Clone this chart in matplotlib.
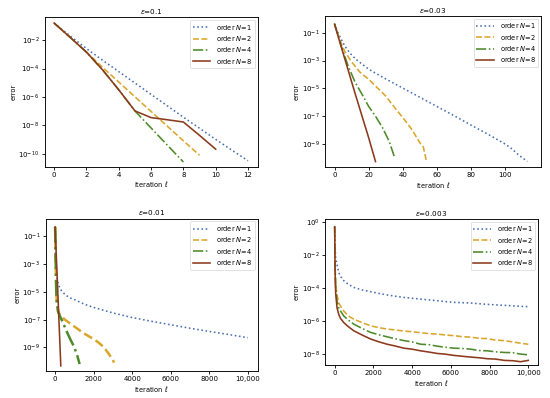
import numpy as np
import matplotlib
matplotlib.use("Agg")
import matplotlib.pyplot as plt
from matplotlib.ticker import NullLocator

plt.rcParams['font.family'] = ['DejaVu Sans']
plt.rcParams['font.size'] = 9
plt.rcParams['mathtext.fontset'] = 'dejavusans'
plt.rcParams['axes.linewidth'] = 1.3
plt.rcParams['xtick.major.width'] = 1.2
plt.rcParams['ytick.major.width'] = 1.2
plt.rcParams['xtick.major.size'] = 4.5
plt.rcParams['ytick.major.size'] = 4.5

# ---------------- data (log10 of error) ----------------
# Panel A: eps = 0.1
a_x1 = [0, 1, 2, 3, 4, 5, 6, 7, 8, 9, 10, 11, 12]
a_y1 = [-0.81, -1.72, -2.6, -3.42, -4.22, -5.02, -5.82, -6.62, -7.42, -8.2, -8.98, -9.74, -10.48]
a_x2 = [0, 1, 2, 3, 4, 5, 6, 7, 8, 9]
a_y2 = [-0.81, -1.82, -2.85, -3.92, -4.95, -5.99, -7.02, -8.05, -9.08, -10.1]
a_x4 = [0, 1, 2, 3, 4, 5, 6, 7, 8]
a_y4 = [-0.81, -1.82, -2.85, -4.1, -5.5, -6.98, -8.18, -9.38, -10.57]
a_x8 = [0, 1, 2, 3, 4, 5, 6, 7, 8, 9, 10]
a_y8 = [-0.81, -1.82, -2.85, -4.1, -5.5, -6.98, -7.45, -7.6, -7.76, -8.7, -9.67]

# Panel B: eps = 0.03
b_x1 = [0, 2, 4, 6, 8, 10, 12, 15, 20, 25, 30, 40, 50, 60, 70, 80, 90, 100, 104, 108, 113]
b_y1 = [-0.38, -1.0, -1.5, -1.95, -2.3, -2.6, -2.85, -3.15, -3.62, -3.98, -4.32, -4.98, -5.64, -6.3,
        -6.96, -7.64, -8.3, -9.0, -9.35, -9.8, -10.25]
b_x2 = [0, 3, 6, 10, 15, 20, 25, 30, 35, 40, 45, 50, 52, 54]
b_y2 = [-0.38, -1.5, -2.35, -3.1, -3.85, -4.35, -4.95, -5.55, -6.35, -7.1, -7.9, -8.9, -9.2, -10.3]
b_x4 = [0, 4, 8, 12, 16, 20, 24, 28, 32, 35]
b_y4 = [-0.38, -2.0, -3.4, -4.55, -5.4, -6.3, -7.0, -7.8, -8.8, -9.9]
b_x8 = [0, 4, 8, 12, 16, 20, 24]
b_y8 = [-0.38, -2.05, -3.7, -5.35, -6.95, -8.55, -10.26]

# Panel C: eps = 0.01
c_x1 = [0, 15, 35, 60, 90, 130, 180, 250, 350, 450, 600, 800, 1000, 1500, 2000, 3000, 4000,
        5000, 6000, 7000, 8000, 9000, 10000]
c_y1 = [-0.32, -1.5, -2.8, -3.45, -3.9, -4.25, -4.5, -4.75, -4.95, -5.1, -5.28, -5.45, -5.55,
        -5.88, -6.12, -6.52, -6.85, -7.12, -7.37, -7.62, -7.85, -8.07, -8.3]
c_x2 = [0, 30, 60, 90, 120, 150, 200, 300, 500, 750, 1000, 1250, 1500, 1750, 2000, 2250, 2500,
        2750, 3000, 3050]
c_y2 = [-0.32, -3.0, -5.0, -5.9, -6.0, -6.4, -6.55, -6.7, -7.0, -7.25, -7.5, -7.75, -8.0, -8.2,
        -8.4, -8.65, -8.95, -9.4, -9.9, -10.1]
c_x4 = [0, 30, 60, 90, 120, 150, 200, 400, 600, 800, 1000, 1150, 1270]
c_y4 = [-0.32, -3.0, -5.0, -5.9, -6.0, -6.4, -6.6, -7.2, -7.85, -8.45, -9.0, -9.6, -10.2]
c_x8 = [0, 150, 294]
c_y8 = [-0.32, -5.4, -10.33]

# Panel D: eps = 0.003
d_x = [0, 20, 50, 120, 207, 300, 466, 700, 985, 1400, 1850, 2300, 2710, 3100, 3575, 4000, 4440,
       4900, 5300, 5700, 6170, 6600, 7030, 7450, 7890, 8300, 8760, 9200, 9600, 10000]
d_y1 = [-0.29, -1.4, -2.2, -2.6, -3.05, -3.3, -3.56, -3.78, -3.97, -4.12, -4.23, -4.34, -4.43,
        -4.5, -4.58, -4.63, -4.68, -4.73, -4.78, -4.83, -4.88, -4.9, -4.92, -4.96, -5.0, -5.03,
        -5.06, -5.09, -5.12, -5.14]
d_y2 = [-0.29, -2.5, -3.8, -4.4, -4.9, -5.1, -5.4, -5.7, -5.9, -6.1, -6.3, -6.42, -6.5, -6.55,
        -6.62, -6.66, -6.72, -6.78, -6.8, -6.86, -6.9, -6.96, -6.99, -7.06, -7.08, -7.17, -7.2,
        -7.28, -7.36, -7.42]
d_y4 = [-0.29, -2.7, -4.0, -4.8, -5.2, -5.4, -5.7, -5.95, -6.2, -6.45, -6.7, -6.85, -6.97,
        -7.08, -7.2, -7.28, -7.42, -7.45, -7.54, -7.6, -7.66, -7.68, -7.72, -7.8, -7.82, -7.88,
        -7.92, -7.93, -8.02, -8.06]
d_y8 = [-0.29, -2.9, -4.3, -5.2, -5.6, -5.85, -6.1, -6.35, -6.6, -6.85, -7.1, -7.28, -7.42,
        -7.52, -7.66, -7.72, -7.82, -7.9, -7.98, -8.02, -8.1, -8.15, -8.2, -8.24, -8.3, -8.32,
        -8.4, -8.42, -8.48, -8.4]

titles = [r'$\varepsilon$=0.1', r'$\varepsilon$=0.03', r'$\varepsilon$=0.01', r'$\varepsilon$=0.003']
orders = [1, 2, 4, 8]

colors = {1: '#4a6fb0', 2: '#dba52a', 4: '#4d8a2a', 8: '#8b3a1c'}
styles = {1: ':', 2: '--', 4: '-.', 8: '-'}

W, H = 550.0, 398.0
def rect(l, r, t, b):
    return [l / W, 1 - b / H, (r - l) / W, (b - t) / H]

fig = plt.figure(figsize=(11, 7.96), dpi=50)

panels = [
    dict(rect=rect(44.5, 257.7, 17.3, 166.7),
         series=[(a_x1, a_y1), (a_x2, a_y2), (a_x4, a_y4), (a_x8, a_y8)],
         xlim=(-0.6, 12.6), ylim=(-10.9, -0.4),
         xticks=[0, 2, 4, 6, 8, 10, 12], xlabels=['0', '2', '4', '6', '8', '10', '12'],
         yticks=[-2, -4, -6, -8, -10], thick=False),
    dict(rect=rect(325, 541, 16, 167),
         series=[(b_x1, b_y1), (b_x2, b_y2), (b_x4, b_y4), (b_x8, b_y8)],
         xlim=(-5.6, 121), ylim=(-10.65, 0.2),
         xticks=[0, 20, 40, 60, 80, 100], xlabels=['0', '20', '40', '60', '80', '100'],
         yticks=[-1, -3, -5, -7, -9], thick=False),
    dict(rect=rect(45.5, 257.5, 218.7, 371),
         series=[(c_x1, c_y1), (c_x2, c_y2), (c_x4, c_y4), (c_x8, c_y8)],
         xlim=(-500, 10500), ylim=(-10.7, 0.27),
         xticks=[0, 2000, 4000, 6000, 8000, 10000],
         xlabels=['0', '2000', '4000', '6000', '8000', '10,000'],
         yticks=[-1, -3, -5, -7, -9], thick=True),
    dict(rect=rect(325, 538, 219, 365),
         series=[(d_x, d_y1), (d_x, d_y2), (d_x, d_y4), (d_x, d_y8)],
         xlim=(-500, 10500), ylim=(-8.68, 0.18),
         xticks=[0, 2000, 4000, 6000, 8000, 10000],
         xlabels=['0', '2000', '4000', '6000', '8000', '10,000'],
         yticks=[0, -2, -4, -6, -8], thick=False),
]

for p, title in zip(panels, titles):
    ax = fig.add_axes(p['rect'])
    for (xs, ys), n in zip(p['series'], orders):
        lw = 2.3
        if p['thick'] and n in (2, 4):
            lw = 3.6
        ax.plot(xs, 10.0 ** np.array(ys), linestyle=styles[n], color=colors[n], lw=lw,
                label='order $N$=%d' % n)
    ax.set_yscale('log')
    ax.set_xlim(*p['xlim'])
    ax.set_ylim(10.0 ** p['ylim'][0], 10.0 ** p['ylim'][1])
    ax.set_yticks([10.0 ** v for v in p['yticks']])
    ax.yaxis.set_minor_locator(NullLocator())
    ax.set_xticks(p['xticks'])
    ax.set_xticklabels(p['xlabels'])
    ax.tick_params(labelsize=10, pad=3)
    ax.set_title(title, fontsize=10.5, pad=5)
    ax.set_xlabel(r'iteration $\ell$', fontsize=9.5, labelpad=2)
    ax.set_ylabel('error', fontsize=9.5, labelpad=3)
    leg = ax.legend(loc='upper right', fontsize=9.5, handlelength=2.6, borderpad=0.4,
                    labelspacing=0.35, handletextpad=0.9, borderaxespad=0.4)
    for line in leg.get_lines():
        line.set_linewidth(2.3)

fig.savefig('out.png', dpi=50)
